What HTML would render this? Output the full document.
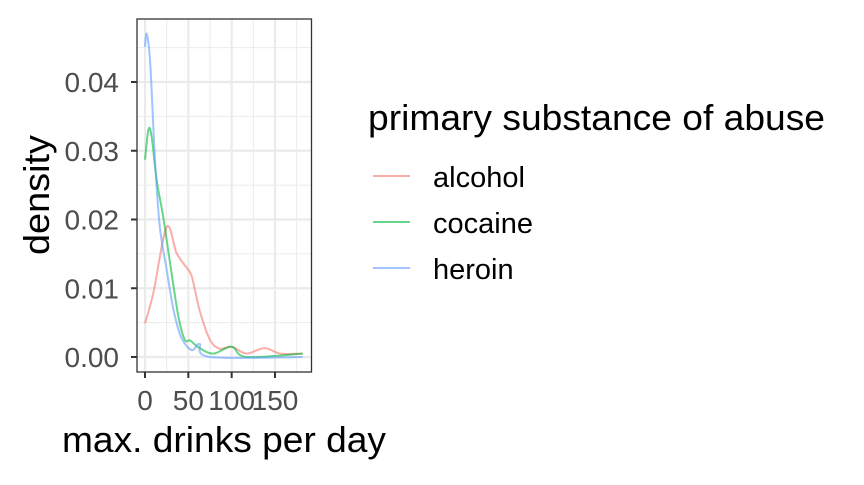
<!DOCTYPE html>
<html><head><meta charset="utf-8"><style>
body{margin:0;background:#fff;}
svg text{font-family:"Liberation Sans",Arial,sans-serif;}
</style></head><body>
<svg id="chart" width="864" height="480" xmlns="http://www.w3.org/2000/svg">
<g id="grid"></g>
<g id="curves"></g>
<rect x="137" y="19" width="174.5" height="353" fill="none" stroke="#333" stroke-width="1.3"/>
<g id="axes"></g>
<text x="49" y="195" font-size="36" text-anchor="middle" textLength="120" lengthAdjust="spacingAndGlyphs" transform="rotate(-90 49 195)">density</text>
<text x="62" y="452" font-size="36" textLength="324" lengthAdjust="spacingAndGlyphs">max. drinks per day</text>
<text x="368" y="130" font-size="36" textLength="457" lengthAdjust="spacingAndGlyphs">primary substance of abuse</text>
<g id="legend"></g>
</svg>
<script>
const xTicks=[0,50,100,150];
const yTicks=[0,0.01,0.02,0.03,0.04];
const yTickLabels=["0.00","0.01","0.02","0.03","0.04"];
const seriesNames=["alcohol","cocaine","heroin"];
const alcoholX=[0,9.6,25,36.5,48,54,63,75,86.5,100,117,138,156,182];
const alcoholY=[0.0049,0.0093,0.0189,0.0151,0.0130,0.0117,0.0068,0.0025,0.0012,0.0015,0.0005,0.0013,0.0005,0.0005];
const cocaineX=[0,4,7.7,13.5,21,29,38.5,46,52,63,79,100,117,182];
const cocaineY=[0.0287,0.0331,0.0320,0.0257,0.0204,0.0136,0.0059,0.0025,0.0024,0.0013,0.0005,0.0015,0.0,0.0005];
const heroinX=[0,2,6,11.5,17,25,33,42,54,63,75,182];
const heroinY=[0.0451,0.047,0.0428,0.0287,0.019,0.0127,0.0068,0.0028,0.001,0.0019,0.0,0.0];
const colors=["#F8766D","#00BA38","#619CFF"];
const NS="http://www.w3.org/2000/svg";
const sx=v=>145+v*(43.33/50);
const sy=v=>357-v*6875;
function mk(tag,attrs,parent){const e=document.createElementNS(NS,tag);for(const k in attrs)e.setAttribute(k,attrs[k]);parent.appendChild(e);return e;}
const grid=document.getElementById('grid'),axes=document.getElementById('axes');
for(let i=0;i<xTicks.length;i++){const m=xTicks[i]+25;const g=mk('line',{x1:sx(m),x2:sx(m),y1:19,y2:372,stroke:'#ebebeb','stroke-width':1},grid);

}
for(let i=0;i<yTicks.length;i++){const m=yTicks[i]+0.005;const g=mk('line',{x1:137,x2:311.5,y1:sy(m),y2:sy(m),stroke:'#ebebeb','stroke-width':1},grid);

}
xTicks.forEach(t=>{const g=mk('line',{x1:sx(t),x2:sx(t),y1:19,y2:372,stroke:'#ebebeb','stroke-width':2.2},grid);


const tk=mk('line',{x1:sx(t),x2:sx(t),y1:372,y2:378,stroke:'#333','stroke-width':2},axes);


const tx=mk('text',{x:sx(t),y:410,'font-size':28,fill:'#4d4d4d','text-anchor':'middle'},axes);tx.textContent=t;

});
yTicks.forEach((t,i)=>{const g=mk('line',{x1:137,x2:311.5,y1:sy(t),y2:sy(t),stroke:'#ebebeb','stroke-width':2.2},grid);


const tk=mk('line',{x1:131,x2:137,y1:sy(t),y2:sy(t),stroke:'#333','stroke-width':2},axes);


const tx=mk('text',{x:119,y:sy(t)+10,'font-size':28,fill:'#4d4d4d','text-anchor':'end'},axes);tx.textContent=yTickLabels[i];

});
function smooth(xs,ys){const p=xs.map((x,i)=>[sx(x),sy(ys[i])]);let d='M'+p[0][0]+','+p[0][1];
for(let i=0;i<p.length-1;i++){const p0=p[i-1]||p[i],p1=p[i],p2=p[i+1],p3=p[i+2]||p2;
const c1=[p1[0]+(p2[0]-p0[0])/6,p1[1]+(p2[1]-p0[1])/6],c2=[p2[0]-(p3[0]-p1[0])/6,p2[1]-(p3[1]-p1[1])/6];
d+=` C${c1[0]},${c1[1]} ${c2[0]},${c2[1]} ${p2[0]},${p2[1]}`;}return d;}
const curves=document.getElementById('curves');
const data=[[alcoholX,alcoholY],[cocaineX,cocaineY],[heroinX,heroinY]];
data.forEach((s,i)=>{const p=mk('path',{d:smooth(s[0],s[1]),fill:'none',stroke:colors[i],'stroke-width':2,'stroke-opacity':0.6},curves);

});
const legend=document.getElementById('legend');
seriesNames.forEach((n,i)=>{const y=176+i*46;
const l=mk('line',{x1:373,x2:410,y1:y,y2:y,stroke:colors[i],'stroke-width':2,'stroke-opacity':0.6},legend);


const t=mk('text',{x:433,y:y+11,'font-size':29},legend);t.textContent=n;

});
</script>
</body></html>
